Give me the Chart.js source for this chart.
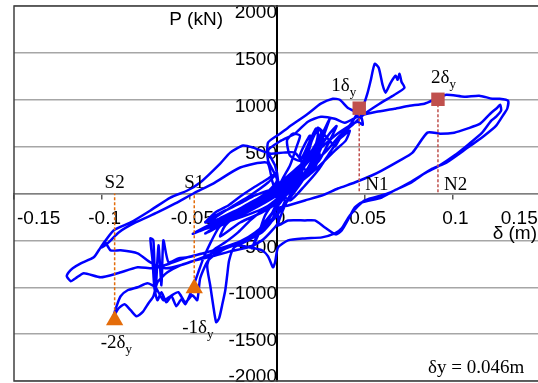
<!DOCTYPE html>
<html>
<head>
<meta charset="utf-8">
<script src="https://cdn.jsdelivr.net/npm/chart.js@4.4.1/dist/chart.umd.min.js"></script>
<style>
  html, body { margin: 0; padding: 0; background: #fff; overflow: hidden; }
  #wrap { width: 540px; height: 383px; }
</style>
</head>
<body>
<div id="wrap"><canvas id="chart"></canvas></div>
<script>
// DATA  (displacement m, load kN), one array per stage of the test
const smallCycles = [
  [0, 0], [0.0074, 138], [0.0119, 245], [0.0074, 117], [0, 11], [-0.0085, -74], [-0.0153, -149], [-0.0085, -53],
  [0, 53], [0.0102, 223], [0.0159, 351], [0.0119, 223], [0.0034, 85], [-0.0068, -32], [-0.0210, -181], [-0.0278, -245],
  [-0.0182, -128], [-0.0068, -11], [0.0028, 117], [0.0131, 298], [0.0199, 458], [0.0233, 564], [0.0188, 372], [0.0102, 192],
  [-0.0040, 11], [-0.0182, -149], [-0.0313, -287], [-0.0369, -351], [-0.0267, -223], [-0.0125, -74], [0, 74], [0.0131, 266],
  [0.0216, 479], [0.0273, 692], [0.0301, 798], [0.0256, 564], [0.0233, 404], [0.0256, 617], [0.0222, 298], [0.0131, 138],
  [0.0028, 11], [-0.0097, -128], [-0.0239, -266], [-0.0352, -372], [-0.0409, -426], [-0.0313, -309], [-0.0165, -138], [-0.0040, -11],
  [0.0063, 117], [0.0159, 330], [0.0199, 564], [0.0233, 692], [0.0222, 458], [0.0165, 245], [0.0131, 404], [0.0188, 617],
  [0.0159, 298], [0.0074, 85], [0.0028, -74], [-0.0040, -234], [-0.0097, -372], [-0.0142, -585], [-0.0108, -447], [-0.0068, -234],
  [0, -53], [0.0102, 160], [0.0176, 458], [0.0119, 117], [0.0017, -74], [-0.0085, -202], [-0.0210, -309], [-0.0324, -458],
  [-0.0295, -340], [-0.0210, -202], [-0.0108, -74], [0, 138]
];
const cycleOneUp = [
  [-0.0051, 351], [-0.0051, 543], [0.0017, 638], [0.0063, 702], [0.0176, 851], [0.0250, 958], [0.0318, 1011], [0.0358, 1000],
  [0.0403, 915], [0.0449, 872], [0.0477, 841], [0.0489, 734], [0.0460, 766], [0.0415, 724], [0.0330, 617], [0.0233, 458],
  [0.0131, 298], [0.0045, 160], [-0.0040, 32], [-0.0153, -106], [-0.0267, -234]
];
const cycleOneDown = [
  [-0.0335, -372], [-0.0381, -532], [-0.0420, -692], [-0.0449, -841], [-0.0477, -990], [-0.0500, -1096], [-0.0523, -1181], [-0.0545, -1128],
  [-0.0574, -1202], [-0.0602, -1096], [-0.0631, -1160], [-0.0659, -1053], [-0.0682, -1138], [-0.0699, -1011], [-0.0710, -713], [-0.0722, -479],
  [-0.0705, -500], [-0.0693, -1053], [-0.0676, -553], [-0.0659, -979], [-0.0648, -500], [-0.0619, -734],
  [-0.0563, -692], [-0.0511, -681], [-0.0420, -638], [-0.0307, -575], [-0.0210, -521], [-0.0125, -436], [-0.0057, -330], [0, -213]
];
const repeatCycles = [
  [0.0085, -20], [0.0150, 150], [0.0210, 380], [0.0250, 520], [0.0200, 330], [0.0120, 120], [0.0030, -40], [-0.0080, -160],
  [-0.0200, -250], [-0.0330, -330], [-0.0420, -380], [-0.0330, -270], [-0.0200, -150], [-0.0080, -30], [0.0040, 110], [0.0140, 260],
  [0.0240, 480], [0.0300, 640], [0.0340, 720], [0.0290, 520], [0.0310, 600], [0.0240, 350], [0.0150, 200], [0.0050, 60],
  [-0.0060, -60], [-0.0180, -190], [-0.0300, -290], [-0.0440, -400], [-0.0480, -430], [-0.0380, -330], [-0.0250, -210], [-0.0120, -90],
  [0, 40], [0.0110, 200], [0.0200, 420], [0.0270, 580], [0.0230, 400], [0.0160, 230], [0.0080, 0]
];
const nearYieldCycles = [
  [0.0017, 85], [0.0074, 298], [0.0114, 511], [0.0131, 617], [0.0091, 638], [0.0057, 564], [0.0074, 404], [0.0131, 351],
  [0.0188, 564], [0.0222, 692], [0.0233, 617], [0.0216, 458], [0.0244, 383], [0.0233, 564], [0.0256, 670], [0.0233, 702],
  [0.0301, 564], [0.0330, 500], [0.0358, 585], [0.0386, 628], [0.0415, 670], [0.0392, 564], [0.0330, 458], [0.0273, 351],
  [0.0199, 223], [0.0131, 117], [0.0063, 11], [0.0028, -74]
];
const bandCycles = [
  [-0.0040, 32], [-0.0125, -21], [-0.0210, -106], [-0.0295, -181], [-0.0369, -255], [-0.0409, -309], [-0.0352, -202], [-0.0278, -128],
  [-0.0210, -32], [-0.0142, 53], [-0.0068, 138], [0, 223], [-0.0051, 117], [-0.0153, -21], [-0.0256, -138], [-0.0335, -234],
  [-0.0392, -309], [-0.0324, -266], [-0.0239, -202], [-0.0153, -117], [-0.0068, -32], [0, 32]
];
const spikeCycle = [
  [0.0074, -74], [0.0159, 85], [0.0233, 245], [0.0301, 436], [0.0369, 617], [0.0426, 755], [0.0460, 862], [0.0494, 947],
  [0.0517, 1075], [0.0534, 1202], [0.0557, 1383], [0.0580, 1341], [0.0602, 1160], [0.0619, 1075], [0.0648, 1181], [0.0676, 1256],
  [0.0688, 1213], [0.0699, 1277], [0.0710, 1192], [0.0727, 1128],
  [0.0670, 1053], [0.0585, 958], [0.0500, 851], [0.0426, 724], [0.0358, 617], [0.0284, 458], [0.0205, 319], [0.0131, 170],
  [0.0057, 32], [-0.0011, -74], [-0.0085, -181], [-0.0153, -287], [-0.0222, -415]
];
const dipCycle = [
  [-0.0295, -521], [-0.0364, -606], [-0.0398, -766], [-0.0381, -979], [-0.0364, -1192], [-0.0347, -1373], [-0.0330, -1330], [-0.0313, -1192],
  [-0.0295, -1032], [-0.0284, -872], [-0.0273, -713], [-0.0244, -575], [-0.0165, -500], [-0.0085, -415], [-0.0028, -287], [0, -74],
  [0.0006, 138], [-0.0011, 298], [-0.0051, 458]
];
const twoDeltaOuter = [
  [0.0023, 564], [0.0102, 638], [0.0176, 766], [0.0250, 819], [0.0330, 798], [0.0386, 755], [0.0472, 830], [0.0568, 872],
  [0.0670, 904], [0.0756, 936], [0.0841, 958], [0.0909, 1011], [0.0966, 1053], [0.1068, 1032], [0.1153, 1043], [0.1227, 1011],
  [0.1267, 1011], [0.1318, 990],
  [0.1313, 904], [0.1295, 851], [0.1250, 724], [0.1182, 617], [0.1080, 479], [0.0966, 330], [0.0886, 266], [0.0756, 117],
  [0.0631, 0], [0.0500, -74], [0.0415, -234], [0.0369, -372], [0.0330, -426], [0.0256, -468], [0.0159, -479], [0.0063, -500],
  [0.0006, -575], [-0.0011, -734], [-0.0023, -787], [-0.0051, -670], [-0.0085, -606]
];
const twoDeltaDown = [
  [-0.0153, -575], [-0.0239, -553], [-0.0313, -606], [-0.0392, -713], [-0.0438, -904], [-0.0455, -1138], [-0.0483, -1085], [-0.0523, -1160],
  [-0.0563, -1053], [-0.0608, -1096], [-0.0648, -1138], [-0.0693, -1000], [-0.0739, -958], [-0.0795, -1000], [-0.0852, -1032], [-0.0892, -1096],
  [-0.0915, -1202], [-0.0932, -1309],
  [-0.0903, -1224], [-0.0869, -1181], [-0.0835, -1245], [-0.0801, -1309], [-0.0767, -1266], [-0.0733, -1170], [-0.0705, -1096], [-0.0682, -947],
  [-0.0625, -841], [-0.0551, -766], [-0.0466, -713], [-0.0369, -670], [-0.0267, -617], [-0.0165, -575], [-0.0085, -500], [-0.0028, -394],
  [0.0006, -309], [0.0006, -160]
];
const twoDeltaInner = [
  [0.0063, -128], [0.0159, -74], [0.0256, -21], [0.0347, 53], [0.0443, 117], [0.0540, 192], [0.0597, 245], [0.0699, 351],
  [0.0773, 436], [0.0858, 649], [0.0932, 638], [0.1011, 649], [0.1085, 692], [0.1159, 745], [0.1216, 851], [0.1256, 915],
  [0.1273, 947], [0.1278, 883],
  [0.1250, 819], [0.1222, 777], [0.1170, 649], [0.1097, 532], [0.1011, 404], [0.0926, 298], [0.0841, 213], [0.0767, 117],
  [0.0670, 32], [0.0597, -43], [0.0483, -96], [0.0443, -149], [0.0403, -287], [0.0369, -394], [0.0335, -436], [0.0273, -362],
  [0.0216, -287], [0.0159, -287], [0.0063, -287], [0.0006, -340],
  [0.0045, -128], [0.0102, 85], [0.0148, 298], [0.0102, 436], [0.0034, 436], [-0.0040, 426]
];
const maxCycleDown = [
  [-0.0136, 489], [-0.0193, 511], [-0.0267, 436], [-0.0324, 319], [-0.0438, 117], [-0.0511, 32], [-0.0608, -43], [-0.0722, -181],
  [-0.0835, -309], [-0.0932, -394], [-0.1006, -575], [-0.1045, -681], [-0.1119, -745], [-0.1165, -798], [-0.1188, -841], [-0.1199, -883],
  [-0.1176, -936], [-0.1148, -904],
  [-0.1102, -851], [-0.1006, -894], [-0.0909, -851], [-0.0795, -787], [-0.0705, -798], [-0.0608, -745], [-0.0511, -681], [-0.0420, -638],
  [-0.0307, -575], [-0.0210, -511], [-0.0125, -415], [-0.0051, -287], [0, -74], [-0.0028, 138], [-0.0057, 330]
];
const lastCycle = [
  [-0.0210, 277], [-0.0364, 106], [-0.0477, 0], [-0.0580, -106], [-0.0682, -202], [-0.0807, -309], [-0.0903, -415], [-0.0960, -521],
  [-0.1000, -575], [-0.0983, -511], [-0.0949, -606], [-0.0892, -606], [-0.0795, -638], [-0.0722, -734], [-0.0636, -798], [-0.0551, -766],
  [-0.0438, -692], [-0.0324, -606], [-0.0182, -500], [-0.0085, -394], [0, -234], [0.0045, -74], [0, 0]
];

// points de controle (N1, N2 en traction ; S1, S2 en compression)
const tensionPoints = [[0.0469, 910], [0.0918, 1005]];
const tensionNames = ['N1', 'N2'];
const tensionTags = ['1', '2'];
const compressionPoints = [[-0.0472, -1011], [-0.0926, -1351]];
const compressionNames = ['S1', 'S2'];
const compressionTags = ['-1', '-2'];

const xTicks = [-0.15, -0.1, -0.05, 0, 0.05, 0.1, 0.15];
const xTickLabels = ['-0.15', '-0.1', '-0.05', '0', '0.05', '0.1', '0.15'];
const yTicks = [-2000, -1500, -1000, -500, 0, 500, 1000, 1500, 2000];
const yTickLabels = ['-2000', '-1500', '-1000', '-500', '', '500', '1000', '1500', '2000'];

//  FONTES
const SANS = '"Liberation Sans", Arial, sans-serif';
const SERIF = '"Liberation Serif", "Times New Roman", serif';

const curve = [].concat(smallCycles, cycleOneUp, cycleOneDown, repeatCycles, nearYieldCycles, bandCycles,
  spikeCycle, dipCycle, twoDeltaOuter, twoDeltaDown, twoDeltaInner, maxCycleDown, lastCycle)
  .map(([d, p]) => ({ x: d, y: p }));

function dropLine(pt, color) {
  return {
    data: [{ x: pt[0], y: pt[1] }, { x: pt[0], y: 0 }],
    showLine: true,
    borderColor: color,
    borderWidth: 1.5,
    borderDash: [3, 2],
    pointRadius: 0,
    order: 2
  };
}

function deltaLabel(ctx, tag, left, midY) {
  ctx.font = '19px ' + SERIF;
  ctx.textAlign = 'left';
  ctx.fillText(tag + 'δ', left, midY);
  const w = ctx.measureText(tag + 'δ').width;
  ctx.font = '13px ' + SERIF;
  ctx.fillText('y', left + w, midY + 6);
}

const annotate = {
  id: 'annotate',
  afterDraw(chart) {
    const { ctx, chartArea: a, scales: { x, y } } = chart;
    ctx.save();
    ctx.strokeStyle = '#404040';
    ctx.lineWidth = 1.5;
    ctx.strokeRect(a.left, a.top, a.right - a.left, a.bottom - a.top);

    const x0 = x.getPixelForValue(0);
    const y0 = y.getPixelForValue(0);
    ctx.fillStyle = '#000';
    ctx.textBaseline = 'middle';

    // TITRES DES AXES
    ctx.font = '19px ' + SANS;
    ctx.textAlign = 'right';
    ctx.fillText('P (kN)', x0 - 54, 20);
    ctx.fillText('δ (m)', 537, y0 + 40);

    // N1 N2
    tensionPoints.forEach((pt, i) => {
      const px = x.getPixelForValue(pt[0]);
      const py = y.getPixelForValue(pt[1]);
      ctx.font = '19px ' + SERIF;
      ctx.textAlign = 'left';
      ctx.fillText(tensionNames[i], px + 6, y0 - 8);
      if (i === 0) deltaLabel(ctx, tensionTags[i], px - 28, py - 22);
      else deltaLabel(ctx, tensionTags[i], px - 7, py - 21);
    });

    // S1 S2
    compressionPoints.forEach((pt, i) => {
      const px = x.getPixelForValue(pt[0]);
      const py = y.getPixelForValue(pt[1]);
      ctx.font = '19px ' + SERIF;
      ctx.textAlign = 'center';
      ctx.fillText(compressionNames[i], px, y0 - 10);
      if (i === 0) deltaLabel(ctx, compressionTags[i], px - 12, py + 40);
      else deltaLabel(ctx, compressionTags[i], px - 14, py + 23);
    });

    ctx.font = '19px ' + SERIF;
    ctx.textAlign = 'left';
    ctx.fillText('δy = 0.046m', 428, 368);
    ctx.restore();
  }
};

new Chart(document.getElementById('chart'), {
  type: 'scatter',
  data: {
    datasets: [
      {
        data: tensionPoints.map(p => ({ x: p[0], y: p[1] })),
        pointStyle: 'rect',
        pointRadius: 9.5,
        backgroundColor: '#c0504d',
        borderWidth: 0,
        order: 0
      },
      {
        data: compressionPoints.map(p => ({ x: p[0], y: p[1] })),
        pointStyle: 'triangle',
        pointRadius: 10,
        backgroundColor: '#e46c0a',
        borderWidth: 0,
        order: 0
      },
      dropLine(tensionPoints[0], '#c0504d'),
      dropLine(tensionPoints[1], '#c0504d'),
      dropLine(compressionPoints[0], '#e46c0a'),
      dropLine(compressionPoints[1], '#e46c0a'),
      {
        data: curve,
        showLine: true,
        borderColor: '#0000ff',
        borderWidth: 2.5,
        pointRadius: 0,
        tension: 0.2,
        order: 3
      }
    ]
  },
  options: {
    responsive: true,
    maintainAspectRatio: false,
    animation: false,
    layout: { autoPadding: false, padding: { left: 14, right: 0, top: 6, bottom: 2 } },
    plugins: { legend: { display: false }, tooltip: { enabled: false } },
    scales: {
      x: {
        type: 'linear',
        min: -0.15,
        max: 0.15,
        position: { y: 0 },
        afterBuildTicks: s => { s.ticks = xTicks.map(v => ({ value: v })); },
        afterFit: s => { s.height = 0; s.paddingLeft = 0; s.paddingRight = 0; },
        grid: { display: true, drawOnChartArea: false, drawTicks: true, tickLength: 5, color: '#595959', lineWidth: 1.5 },
        border: { display: true, color: '#7f7f7f', width: 1.5 },
        ticks: {
          autoSkip: false,
          maxRotation: 0,
          minRotation: 0,
          align: 'inner',
          labelOffset: 3,
          padding: 9,
          color: '#000',
          font: { family: SANS, size: 19 },
          callback: (v, i) => xTickLabels[i] + (i === xTickLabels.length - 1 ? ' ' : '')
        }
      },
      y: {
        type: 'linear',
        min: -2000,
        max: 2000,
        position: { x: 0 },
        afterBuildTicks: s => { s.ticks = yTicks.map(v => ({ value: v })); },
        afterFit: s => { s.width = 0; s.paddingTop = 0; s.paddingBottom = 0; },
        grid: { color: '#a6a6a6', lineWidth: 1.5, drawTicks: false },
        border: { display: true, color: '#000', width: 2 },
        ticks: {
          autoSkip: false,
          labelOffset: 7,
          padding: 0,
          color: '#000',
          font: { family: SANS, size: 19 },
          // la derniere etiquette en bas reste dans le cadre : une ligne vide la remonte
          callback: (v, i) => (i === 0 ? [yTickLabels[i], ''] : yTickLabels[i])
        }
      }
    }
  },
  plugins: [annotate]
});
</script>
</body>
</html>
